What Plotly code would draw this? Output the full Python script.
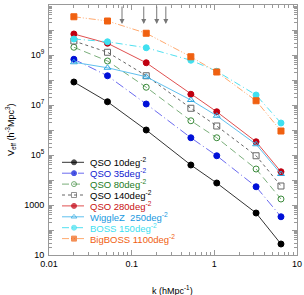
import plotly.graph_objects as go
import numpy as np

# ---- data ----
k = [0.02, 0.051, 0.15, 0.52, 1.07, 3.2, 6.4]

qso10 = [10**7.92, 10**7.13, 10**6.00, 10**4.60, 10**3.88, 10**2.68, 10**1.44]
qso35 = [10**8.83, 10**8.17, 10**7.04, 10**5.69, 10**4.97, 10**3.73, 10**2.53]
qso80 = [10**9.31, 10**8.76, 10**7.71, 10**6.37, 10**5.69, 10**4.44, 10**3.24]
qso140 = [10**9.56, 10**9.11, 10**8.17, 10**6.87, 10**6.16, 10**4.97, 10**3.76]
qso280 = [10**9.84, 10**9.47, 10**8.69, 10**7.43, 10**6.73, 10**5.53, 10**4.33]
wigglez = [10**8.71, 10**8.49, 10**8.13, 10**7.20, 10**6.57, 10**5.43, 10**4.24]
boss = [10**9.64, 10**9.53, 10**9.29, 10**8.79, 10**8.35, 10**7.40, 10**6.28]
bigboss = [10**10.53, 10**10.36, 10**9.87, 10**8.93, 10**8.32, 10**7.17, 10**5.96]

names = ["QSO 10deg<sup>-2</sup>", "QSO 35deg<sup>-2</sup>", "QSO 80deg<sup>-2</sup>",
         "QSO 140deg<sup>-2</sup>", "QSO 280deg<sup>-2</sup>", "WiggleZ  250deg<sup>-2</sup>",
         "BOSS 150deg<sup>-2</sup>", "BigBOSS 1100deg<sup>-2</sup>"]

arrow_k = [0.0764, 0.14, 0.201, 0.259]

x_tickvals = [0.01, 0.1, 1, 10]
x_ticktext = ["0.01", "0.1", "1", "10"]
y_tickvals = [10**e for e in range(1, 12)]
y_ticktext = ["10", "", "1000", "", "10<sup>5</sup>", "", "10<sup>7</sup>", "",
              "10<sup>9</sup>", "", "10<sup>11</sup>"]

series = [qso10, qso35, qso80, qso140, qso280, wigglez, boss, bigboss]

# ---- styles ----
styles = [
    dict(lc="#333333", dash="solid", mc="#000000", sym="circle", tc="#000000"),
    dict(lc="#6a6af0", dash="9px,3px,1px,3px", mc="#0010d8", sym="circle", tc="#1020d0"),
    dict(lc="#7aae7a", dash="7px,4px", mc="#3a8a3a", sym="circle-open", tc="#237a23"),
    dict(lc="#666666", dash="3px,3px", mc="#666666", sym="square-open", tc="#000000"),
    dict(lc="#e05050", dash="solid", mc="#c00010", sym="circle", tc="#c81010"),
    dict(lc="#60c0ee", dash="solid", mc="#30a8e0", sym="triangle-up-open", tc="#1898e0"),
    dict(lc="#50e0f0", dash="7px,3px,1px,3px", mc="#40e0f0", sym="circle", tc="#40e0f0"),
    dict(lc="#ffaa70", dash="7px,2px,1px,2px,1px,2px", mc="#f06010", sym="square", tc="#f06010"),
]

fig = go.Figure()
for s, st in zip(series, styles):
    fig.add_trace(go.Scatter(
        x=k, y=s, mode="lines+markers",
        line=dict(color=st["lc"], width=1, dash=st["dash"]),
        marker=dict(color=st["mc"], symbol=st["sym"], size=6,
                    line=dict(color=st["mc"], width=1)),
        showlegend=False, xaxis="x", yaxis="y"))

# manual legend on overlay axes (0..1 fraction of plot area)
L, R, T, B = 49, 297, 5, 255
W, H = R - L, B - T
leg_y0 = 162.3
leg_dy = 10.9
for i, st in enumerate(styles):
    py = leg_y0 + i * leg_dy
    yf = (B - py) / H
    xs = [(62 - L) / W, (74 - L) / W, (84 - L) / W]
    fig.add_trace(go.Scatter(
        x=xs, y=[yf] * 3, mode="lines+markers",
        line=dict(color=st["lc"], width=1, dash=st["dash"]),
        marker=dict(color=st["mc"], symbol=st["sym"], size=[0, 5, 0],
                    line=dict(color=st["mc"], width=1)),
        showlegend=False, xaxis="x2", yaxis="y2", hoverinfo="skip"))
    fig.add_annotation(x=(88 - L) / W, y=yf, xref="x2", yref="y2",
                       text=names[i], showarrow=False, xanchor="left",
                       yanchor="middle",
                       font=dict(family="Liberation Sans, Arial", size=9.5, color=st["tc"]))

for ka in arrow_k:
    fig.add_annotation(x=np.log10(ka), y=(B - 24) / H, xref="x", yref="paper",
                       ax=0, ay=-19, axref="pixel", ayref="pixel",
                       showarrow=True, arrowhead=2, arrowsize=1, arrowwidth=1,
                       arrowcolor="#777777", text="")

# axis titles as annotations for precise placement
fig.add_annotation(x=(172 - L) / W, y=(B - 290) / H, xref="paper", yref="paper",
                   text="k (hMpc<sup>-1</sup>)", showarrow=False,
                   xanchor="center", yanchor="middle",
                   font=dict(family="Liberation Sans, Arial", size=9, color="#000000"))
fig.add_annotation(x=(10 - L) / W, y=(B - 130) / H, xref="paper", yref="paper",
                   text="V<sub>eff</sub> (h<sup>-3</sup>Mpc<sup>3</sup>)", showarrow=False,
                   textangle=-90, xanchor="center", yanchor="middle",
                   font=dict(family="Liberation Sans, Arial", size=9, color="#000000"))

axis_common = dict(showline=True, linecolor="#999999", linewidth=1, mirror="allticks",
                   ticks="inside", ticklen=5, tickcolor="#999999", showgrid=False,
                   zeroline=False, automargin=False,
                   tickfont=dict(family="Liberation Sans, Arial", size=9, color="#000000"))

minor_x = [m * 10**e for e in range(-2, 1) for m in range(2, 10)]
minor_y = [m * 10**e for e in range(1, 11) for m in range(2, 10)]

fig.update_layout(
    width=304, height=295,
    margin=dict(l=L, r=304 - R, t=T, b=295 - B),
    paper_bgcolor="white", plot_bgcolor="white",
    font=dict(family="Liberation Sans, Arial", size=9, color="#000000"),
    xaxis=dict(type="log", range=[-2, 1], tickvals=x_tickvals, ticktext=x_ticktext,
               minor=dict(tickvals=minor_x, ticks="inside", ticklen=3, tickcolor="#999999"),
               **axis_common),
    yaxis=dict(type="log", range=[1, 11], tickvals=y_tickvals, ticktext=y_ticktext,
               minor=dict(tickvals=minor_y, ticks="inside", ticklen=3, tickcolor="#999999"),
               ticklabelstandoff=2,
               **axis_common),
    xaxis2=dict(overlaying="x", range=[0, 1], visible=False, fixedrange=True),
    yaxis2=dict(overlaying="y", range=[0, 1], visible=False, fixedrange=True),
    showlegend=False,
)

fig.write_html("out.html", config={"displayModeBar": False},
               post_script="document.body.style.margin='0';document.body.style.padding='0';")
